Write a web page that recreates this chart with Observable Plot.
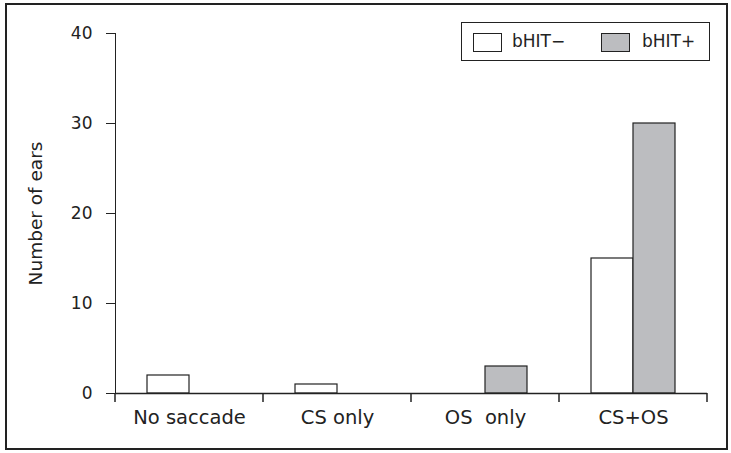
<!DOCTYPE html>
<html>
<head>
<meta charset="utf-8">
<script src="https://cdn.jsdelivr.net/npm/d3@7"></script>
<script src="https://cdn.jsdelivr.net/npm/@observablehq/plot@0.6"></script>
<style>
  html, body { margin: 0; padding: 0; background: #fff; }
  #wrap { position: relative; width: 731px; height: 453px; overflow: hidden; }
  #frame { position: absolute; left: 5px; top: 3px; width: 719px; height: 443px; border: 2px solid #222; pointer-events: none; }
  svg text { white-space: pre; }
  #legend { position: absolute; left: 461px; top: 22px; width: 247px; height: 37px; border: 1.6px solid #222;
            font-family: "DejaVu Sans", sans-serif; font-size: 17px; color: #222; }
  .sw { position: absolute; top: 10px; width: 27px; height: 17px; border: 1px solid #222; }
  .lt { position: absolute; top: 8px; line-height: 20px; white-space: pre; }
</style>
</head>
<body>
<div id="wrap">
  <div id="chart"></div>
  <div id="legend"></div>
  <div id="frame"></div>
</div>
<script>
const categories = ["No saccade", "CS only", "OS  only", "CS+OS"];
const series = ["bHIT−", "bHIT+"];
const bhitNeg = [2, 1, 0, 15];
const bhitPos = [0, 0, 3, 30];
const yTicks = [0, 10, 20, 30, 40];
const colors = ["#ffffff", "#bcbdc0"];

const data = [];
categories.forEach((c, i) => {
  data.push({cat: c, series: series[0], value: bhitNeg[i]});
  data.push({cat: c, series: series[1], value: bhitPos[i]});
});

const plot = Plot.plot({
  width: 731,
  height: 453,
  marginLeft: 115,
  marginRight: 24,
  marginTop: 33,
  marginBottom: 60,
  style: {fontFamily: "DejaVu Sans, sans-serif", fontSize: "17px", color: "#222", background: "transparent", overflow: "visible"},
  fx: {domain: categories, padding: 0, round: false, label: null, axis: "bottom", tickSize: 0, tickPadding: 17},
  x: {domain: series, paddingInner: 0, paddingOuter: 0.762, round: false, axis: null},
  y: {domain: [0, 40], ticks: yTicks, tickSize: 9, tickPadding: 14, line: true,
      label: "Number of ears", labelAnchor: "center", labelOffset: 87, labelArrow: "none"},
  color: {domain: series, range: colors},
  marks: [
    Plot.barY(data.filter(d => d.value > 0), {fx: "cat", x: "series", y: "value", fill: "series", stroke: "#222", strokeWidth: 1.2}),
    Plot.ruleY([0], {stroke: "#222", strokeWidth: 1.5})
  ]
});

document.getElementById("chart").appendChild(plot);

// font sizes per text group
d3.select(plot).selectAll('g[aria-label="fx-axis tick label"] text').style("font-size", "19.5px");
d3.select(plot).selectAll('g[aria-label="y-axis label"] text').style("font-size", "18.5px");

// category boundary ticks via the fx scale
const fx = plot.scale("fx");
const ys = plot.scale("y");
const y0 = ys.apply(0);
const bounds = categories.map(c => fx.apply(c));
bounds.push(fx.apply(categories[categories.length - 1]) + fx.bandwidth);
d3.select(plot).append("g")
  .selectAll("line").data(bounds).join("line")
  .attr("x1", d => d).attr("x2", d => d)
  .attr("y1", y0).attr("y2", y0 + 9)
  .attr("stroke", "#222").attr("stroke-width", 1.5);

// legend
const lg = document.getElementById("legend");
const swX = [11, 139];
const txX = [50, 180];
series.forEach((s, i) => {
  const sw = document.createElement("div");
  sw.className = "sw";
  sw.style.left = swX[i] + "px";
  sw.style.background = colors[i];
  lg.appendChild(sw);
  const t = document.createElement("div");
  t.className = "lt";
  t.style.left = txX[i] + "px";
  t.textContent = s;
  lg.appendChild(t);
});
</script>
</body>
</html>
